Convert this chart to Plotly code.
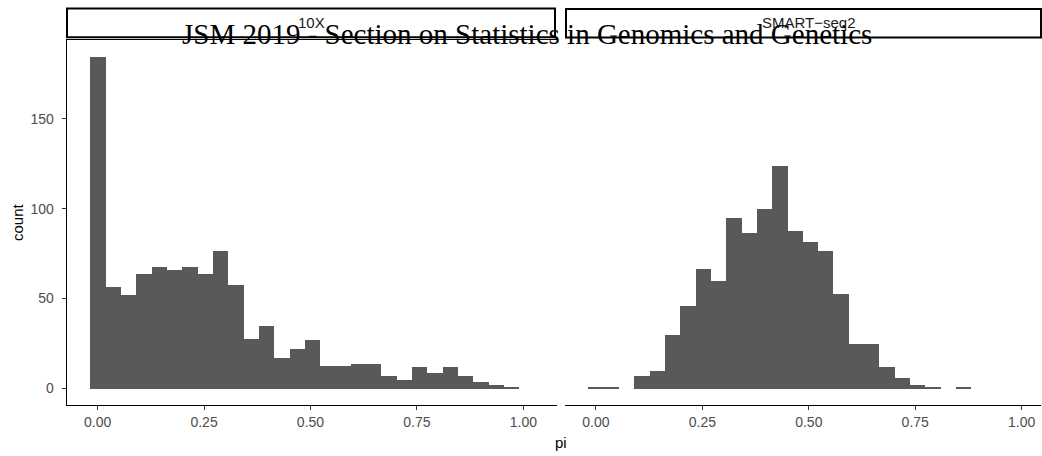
import plotly.graph_objects as go

# ---- data ----
binwidth = 0.036
bin_centers = [round(i * binwidth, 3) for i in range(28)]
counts_10x = [185, 57, 52, 64, 68, 66, 68, 64, 77, 58, 28, 35, 17, 22, 27,
              13, 13, 14, 14, 7, 5, 12, 9, 12, 7, 4, 2, 1]
counts_smart = [1, 1, 0, 7, 10, 30, 46, 67, 60, 95, 87, 100, 124, 88, 82,
                77, 53, 25, 25, 12, 6, 2, 1, 0, 1, 0, 0, 0]
panel_labels = ["10X", "SMART\u2212seq2"]
x_tickvals = [0, 0.25, 0.5, 0.75, 1.0]
x_ticktext = ["0.00", "0.25", "0.50", "0.75", "1.00"]
y_tickvals = [0, 50, 100, 150]
title_text = "JSM 2019 - Section on Statistics in Genomics and Genetics"

W, H = 1042, 456


def px(x):
    return x / W


def py(y):
    return 1 - y / H


BAR = "#595959"
SANS = "Liberation Sans, Arial, sans-serif"
SERIF = "Liberation Serif, Times New Roman, serif"

fig = go.Figure()
fig.add_trace(go.Bar(x=bin_centers, y=counts_10x, width=binwidth,
                     marker=dict(color=BAR, line=dict(width=0)),
                     xaxis="x", yaxis="y", showlegend=False))
fig.add_trace(go.Bar(x=bin_centers, y=counts_smart, width=binwidth,
                     marker=dict(color=BAR, line=dict(width=0)),
                     xaxis="x2", yaxis="y2", showlegend=False))

x_common = dict(showline=True, linecolor="black", linewidth=1.3,
                ticks="outside", ticklen=4, tickwidth=1, tickcolor="#333333",
                tickvals=x_tickvals, ticktext=x_ticktext,
                tickfont=dict(family=SANS, size=14, color="#4D4D4D"),
                showgrid=False, zeroline=False, fixedrange=True)
ydom = [py(405), py(39.5)]
yrange = [-9.25, 194.25]

ppu = (557 - 66.7) / (1.079 + 0.0726)
right_end = -0.0726 + (1041 - 565) / ppu

fig.update_layout(
    width=W, height=H,
    margin=dict(l=0, r=0, t=0, b=0),
    paper_bgcolor="white", plot_bgcolor="white",
    bargap=0,
    xaxis=dict(domain=[px(66.7), px(557)], range=[-0.0726, 1.079],
               anchor="y", mirror=True, **x_common),
    xaxis2=dict(domain=[px(565), px(1041)], range=[-0.0726, right_end],
                anchor="y2", **x_common),
    yaxis=dict(domain=ydom, range=yrange, anchor="x",
               showline=True, linecolor="black", linewidth=1.3,
               ticks="outside", ticklen=4, tickwidth=1, tickcolor="#333333",
               tickvals=y_tickvals, ticklabelstandoff=5,
               tickfont=dict(family=SANS, size=14, color="#4D4D4D"),
               showgrid=False, zeroline=False, fixedrange=True),
    yaxis2=dict(domain=ydom, range=yrange, anchor="x2",
                showline=False, showticklabels=False, ticks="",
                showgrid=False, zeroline=False, fixedrange=True),
)

# strip boxes
fig.add_shape(type="rect", xref="paper", yref="paper",
              x0=px(67), x1=px(555), y0=py(37.3), y1=py(8.5),
              line=dict(color="black", width=2), fillcolor="white", layer="below")
fig.add_shape(type="rect", xref="paper", yref="paper",
              x0=px(566), x1=px(1041), y0=py(37.5), y1=py(9),
              line=dict(color="black", width=2), fillcolor="white", layer="below")

annotations = [
    dict(text=panel_labels[0], x=px(311), y=py(23), xref="paper", yref="paper",
         showarrow=False, xanchor="center", yanchor="middle",
         font=dict(family=SANS, size=15, color="#1A1A1A")),
    dict(text=panel_labels[1], x=px(809), y=py(23), xref="paper", yref="paper",
         showarrow=False, xanchor="center", yanchor="middle",
         font=dict(family=SANS, size=15, color="#1A1A1A")),
    dict(text="count", x=px(17), y=py(222), xref="paper", yref="paper",
         showarrow=False, xanchor="center", yanchor="middle", textangle=-90,
         font=dict(family=SANS, size=15, color="black")),
    dict(text="pi", x=px(561), y=py(442), xref="paper", yref="paper",
         showarrow=False, xanchor="center", yanchor="middle",
         font=dict(family=SANS, size=15, color="black")),
    dict(text=title_text, x=px(527), y=py(34), xref="paper", yref="paper",
         showarrow=False, xanchor="center", yanchor="middle",
         font=dict(family=SERIF, size=29, color="black")),
]
fig.update_layout(annotations=annotations)

fig.write_html(
    "out.html",
    config={"displayModeBar": False},
    post_script="document.body.style.margin='0';"
                "document.documentElement.style.overflow='hidden';",
)
